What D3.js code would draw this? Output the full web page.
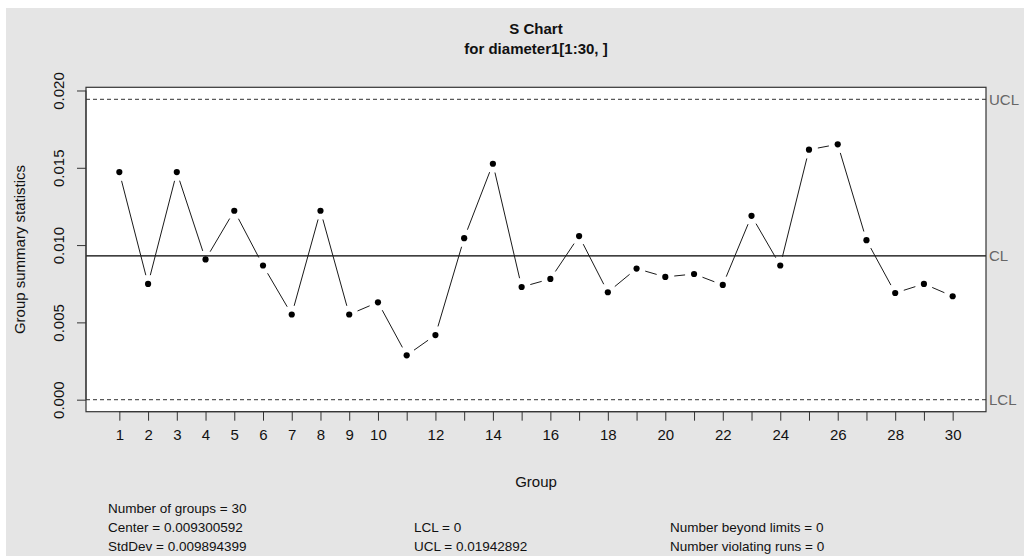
<!DOCTYPE html>
<html>
<head>
<meta charset="utf-8">
<script src="https://cdn.jsdelivr.net/npm/d3@7"></script>
<style>
  html, body { margin: 0; padding: 0; background: #ffffff; }
  svg { display: block; }
  text { font-family: "Liberation Sans", Arial, sans-serif; }
</style>
</head>
<body>
<svg id="chart" width="1024" height="556"></svg>
<script>
// Group standard deviations for diameter1[1:30, ]
const groups = d3.range(1, 31);
const sdValues = [
  0.01472, 0.00749, 0.01472, 0.00907, 0.01222, 0.00868, 0.00551, 0.01222, 0.00551, 0.00630,
  0.00287, 0.00418, 0.01045, 0.01526, 0.00729, 0.00781, 0.01058, 0.00695, 0.00848, 0.00794,
  0.00813, 0.00742, 0.01189, 0.00868, 0.01617, 0.01652, 0.01032, 0.00690, 0.00749, 0.00669
];
const center = 0.009300592;
const stdDev = 0.009894399;
const lcl = 0;
const ucl = 0.01942892;
const yTicks = [0.000, 0.005, 0.010, 0.015, 0.020];
const xTickLabels = [1, 2, 3, 4, 5, 6, 7, 8, 9, 10, 12, 14, 16, 18, 20, 22, 24, 26, 28, 30];
const titleLines = ["S Chart", "for diameter1[1:30, ]"];
const statsLines = [
  { col: 0, row: 0, text: "Number of groups = 30" },
  { col: 0, row: 1, text: "Center = 0.009300592" },
  { col: 0, row: 2, text: "StdDev = 0.009894399" },
  { col: 1, row: 1, text: "LCL = 0" },
  { col: 1, row: 2, text: "UCL = 0.01942892" },
  { col: 2, row: 1, text: "Number beyond limits = 0" },
  { col: 2, row: 2, text: "Number violating runs = 0" }
];

const svg = d3.select("#chart");
const W = 1024, H = 556;

// panel background
svg.append("rect").attr("x", 6).attr("y", 8).attr("width", W - 6).attr("height", H - 8)
  .attr("fill", "#e5e5e5");

const box = { left: 86, right: 986, top: 87.3, bottom: 411.7 };

// R-style 4% axis extension
const xPad = (30 - 1) * 0.04;
const x = d3.scaleLinear().domain([1 - xPad, 30 + xPad]).range([box.left, box.right]);
const yLo = Math.min(lcl, d3.min(sdValues)), yHi = Math.max(ucl, d3.max(sdValues));
const yPad = (yHi - yLo) * 0.04;
const y = d3.scaleLinear().domain([yLo - yPad, yHi + yPad]).range([box.bottom, box.top]);

// plot region
svg.append("rect").attr("x", box.left).attr("y", box.top)
  .attr("width", box.right - box.left).attr("height", box.bottom - box.top)
  .attr("fill", "#ffffff");

// control limits
const limits = [
  { name: "UCL", value: ucl, dash: "4,3", color: "#5a5a5a" },
  { name: "CL", value: center, dash: null, color: "#000000" },
  { name: "LCL", value: lcl, dash: "4,3", color: "#5a5a5a" }
];
svg.append("g").selectAll("line").data(limits).join("line")
  .attr("x1", box.left).attr("x2", box.right)
  .attr("y1", d => y(d.value)).attr("y2", d => y(d.value))
  .attr("stroke", d => d.color).attr("stroke-width", 1.2)
  .attr("stroke-dasharray", d => d.dash);
svg.append("g").selectAll("text").data(limits).join("text")
  .attr("x", box.right + 3).attr("y", d => y(d.value)).attr("dy", "0.36em")
  .attr("font-size", 15).attr("fill", "#666666")
  .text(d => d.name);

// connecting segments with gaps around the points (type = "b")
const gap = 9;
const pts = sdValues.map((v, i) => [x(groups[i]), y(v)]);
const segs = [];
for (let i = 0; i < pts.length - 1; i++) {
  const [x0, y0] = pts[i], [x1, y1] = pts[i + 1];
  const len = Math.hypot(x1 - x0, y1 - y0);
  if (len > 2 * gap) {
    const ux = (x1 - x0) / len, uy = (y1 - y0) / len;
    segs.push([x0 + ux * gap, y0 + uy * gap, x1 - ux * gap, y1 - uy * gap]);
  }
}
svg.append("g").selectAll("line").data(segs).join("line")
  .attr("x1", d => d[0]).attr("y1", d => d[1]).attr("x2", d => d[2]).attr("y2", d => d[3])
  .attr("stroke", "#1a1a1a").attr("stroke-width", 1);

// points
svg.append("g").selectAll("circle").data(sdValues).join("circle")
  .attr("cx", (d, i) => x(groups[i])).attr("cy", d => y(d))
  .attr("r", 3.1).attr("fill", "#000000");

// box border
svg.append("rect").attr("x", box.left).attr("y", box.top)
  .attr("width", box.right - box.left).attr("height", box.bottom - box.top)
  .attr("fill", "none").attr("stroke", "#333333").attr("stroke-width", 1.2);

// x axis
const xAxis = d3.axisBottom(x).tickValues(groups).tickSize(9).tickPadding(6)
  .tickFormat(d => xTickLabels.includes(d) ? d : "");
const gx = svg.append("g").attr("transform", `translate(0,${box.bottom})`).call(xAxis);
gx.select(".domain").attr("d", `M${x(1)},0H${x(30)}`).attr("stroke", "#333333");
gx.selectAll(".tick line").attr("stroke", "#333333");
gx.selectAll(".tick text").attr("font-size", 15).attr("fill", "#111111")
  .attr("font-family", "Liberation Sans, Arial, sans-serif").attr("dy", "0.9em");

// y axis
const yAxis = d3.axisLeft(y).tickValues(yTicks).tickSize(9).tickPadding(0)
  .tickFormat(d3.format(".3f"));
const gy = svg.append("g").attr("transform", `translate(${box.left},0)`).call(yAxis);
gy.select(".domain").attr("d", `M0,${y(0)}V${y(0.020)}`).attr("stroke", "#333333");
gy.selectAll(".tick line").attr("stroke", "#333333");
gy.selectAll(".tick text")
  .attr("font-size", 15).attr("fill", "#111111")
  .attr("font-family", "Liberation Sans, Arial, sans-serif")
  .attr("text-anchor", "middle").attr("x", null).attr("dy", null)
  .attr("transform", "translate(-22,0) rotate(-90)")
  .attr("y", 0);

// axis titles
svg.append("text").attr("x", (box.left + box.right) / 2).attr("y", 487)
  .attr("text-anchor", "middle").attr("font-size", 15).attr("fill", "#111111").text("Group");
svg.append("text").attr("transform", `translate(25,${(box.top + box.bottom) / 2}) rotate(-90)`)
  .attr("text-anchor", "middle").attr("font-size", 15).attr("fill", "#111111")
  .text("Group summary statistics");

// title
svg.append("g").selectAll("text").data(titleLines).join("text")
  .attr("x", (box.left + box.right) / 2).attr("y", (d, i) => 34 + i * 19.5)
  .attr("text-anchor", "middle").attr("font-size", 15).attr("font-weight", "bold")
  .attr("fill", "#111111").text(d => d);

// summary statistics
const colX = [108, 414, 670];
svg.append("g").selectAll("text").data(statsLines).join("text")
  .attr("x", d => colX[d.col]).attr("y", d => 513 + d.row * 19)
  .attr("font-size", 13.5).attr("fill", "#111111").text(d => d.text);
</script>
</body>
</html>
